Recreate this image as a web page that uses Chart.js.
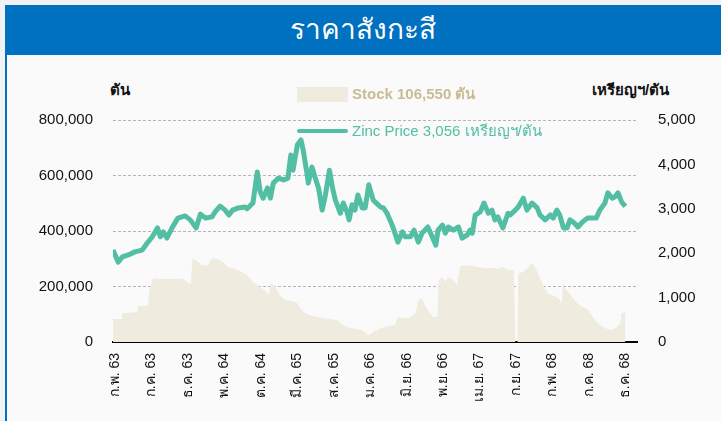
<!DOCTYPE html>
<html>
<head>
<meta charset="utf-8">
<script src="https://cdn.jsdelivr.net/npm/chart.js@4"></script>
<style>
  body { margin: 0; background: #f2f2f2; font-family: "Liberation Sans", Arial, "Noto Sans", sans-serif; }
  #wrap { position: relative; width: 721px; height: 421px; overflow: hidden; }
  #card { position: absolute; left: 5px; top: 5px; width: 716px; height: 416px; background: #fafafa; border-left: 2px solid #0070c0; box-sizing: border-box; }
  #head { position: absolute; left: 5px; top: 5px; width: 716px; height: 50px; background: #0070c0; color: #fff; font-size: 28px; text-align: center; line-height: 50px; }
  .lbl { position: absolute; font-size: 15px; white-space: nowrap; line-height: 18px; }
  canvas { position: absolute; left: 0; top: 0; }
</style>
</head>
<body>
<div id="wrap">
  <div id="card"></div>
  <div id="head">ราคาสังกะสี</div>
  <div class="lbl" style="left:110px;top:81px;color:#111;font-weight:bold;">ตัน</div>
  <div class="lbl" style="left:592px;top:81px;color:#111;font-weight:bold;">เหรียญฯ/ตัน</div>
  <canvas id="chartZinc" width="721" height="421"></canvas>
  <div style="position:absolute;left:297px;top:87px;width:51px;height:15px;background:#efebdf;"></div>
  <div class="lbl" style="left:352px;top:85px;color:#c9bc94;font-weight:bold;">Stock 106,550 ตัน</div>
  <div style="position:absolute;left:297px;top:129px;width:51px;height:4px;background:#52bea3;border-radius:2px;"></div>
  <div class="lbl" style="left:352px;top:122px;color:#52bea3;">Zinc Price 3,056 เหรียญฯ/ตัน</div>
</div>
<script>
// months counted from ก.พ. 63 (0) to ธ.ค. 68 (70)
const tickMonths = [0, 5, 10, 15, 20, 25, 30, 35, 40, 45, 50, 55, 60, 65, 70];
const tickLabels = ["ก.พ. 63", "ก.ค. 63", "ธ.ค. 63", "พ.ค. 64", "ต.ค. 64", "มี.ค. 65", "ส.ค. 65", "ม.ค. 66", "มิ.ย. 66", "พ.ย. 66", "เม.ย. 67", "ก.ย. 67", "ก.พ. 68", "ก.ค. 68", "ธ.ค. 68"];

// zinc price, USD/ton
const priceMonths = [-0.3, 0.4, 1.0, 1.8, 2.7, 3.7, 4.4, 5.1, 5.8, 6.2, 6.6, 7.1, 7.8, 8.6, 9.6, 10.3, 11.1, 11.7, 12.4, 13.3, 13.7, 14.4, 15.1, 15.6, 16.1, 16.9, 17.8, 18.1, 18.9, 19.5, 19.9, 20.3, 20.9, 21.3, 21.7, 22.4, 23.1, 23.7, 24.1, 24.4, 25.0, 25.5, 25.8, 26.3, 26.5, 27.0, 27.4, 27.9, 28.4, 28.8, 29.4, 29.8, 30.2, 30.9, 31.3, 31.8, 32.1, 32.5, 32.9, 33.3, 33.9, 34.3, 34.8, 35.4, 35.7, 36.4, 36.8, 37.3, 37.7, 38.1, 38.8, 39.4, 39.8, 40.5, 41.0, 41.6, 42.1, 42.5, 42.9, 43.5, 44.0, 44.3, 44.9, 45.3, 45.7, 46.4, 47.1, 47.6, 48.3, 48.7, 49.0, 49.4, 50.1, 50.6, 51.2, 51.7, 52.1, 52.5, 53.2, 53.9, 54.2, 54.9, 55.3, 56.0, 56.5, 57.2, 57.9, 58.3, 59.0, 59.7, 60.1, 60.6, 61.0, 61.5, 62.0, 62.4, 63.0, 63.5, 64.1, 64.8, 65.4, 66.0, 66.5, 67.2, 67.6, 68.2, 68.6, 69.0, 69.5, 70.0];
const priceValues = [2070, 1800, 1915, 1960, 2030, 2070, 2230, 2370, 2570, 2370, 2480, 2340, 2570, 2790, 2840, 2750, 2570, 2880, 2790, 2820, 2930, 3060, 2970, 2860, 2970, 3020, 3040, 3000, 3130, 3830, 3380, 3240, 3470, 3240, 3580, 3690, 3650, 3690, 4210, 3870, 4440, 4550, 4320, 3810, 3580, 3940, 3720, 3470, 2970, 3270, 3870, 3490, 3200, 2900, 3130, 2930, 2750, 3090, 2970, 3310, 3020, 3020, 3540, 3200, 3150, 3040, 3020, 2900, 2750, 2590, 2250, 2480, 2370, 2370, 2520, 2250, 2450, 2520, 2590, 2370, 2180, 2520, 2630, 2450, 2590, 2520, 2590, 2340, 2410, 2520, 2450, 2860, 2930, 3130, 2900, 2970, 2750, 2820, 2570, 2900, 2860, 2970, 3040, 3240, 2970, 3130, 3020, 2860, 2750, 2860, 2790, 2970, 2860, 2570, 2570, 2750, 2680, 2590, 2700, 2790, 2790, 2790, 2970, 3130, 3360, 3240, 3270, 3360, 3150, 3056];

// LME stock, tons
const stockMonths = [-0.3, 0.9, 1.0, 3.0, 3.2, 4.5, 4.7, 5.2, 6.9, 7.8, 9.2, 9.9, 10.4, 10.6, 11.2, 11.9, 12.8, 13.2, 14.1, 14.8, 15.5, 16.5, 17.4, 18.1, 18.9, 19.9, 20.9, 21.1, 21.3, 21.9, 22.6, 23.3, 24.3, 25.0, 25.4, 26.1, 26.7, 27.7, 28.5, 29.5, 30.5, 30.9, 31.8, 32.6, 33.9, 34.8, 35.4, 36.4, 37.4, 38.4, 38.8, 40.2, 41.2, 41.6, 42.1, 42.5, 42.9, 43.6, 44.2, 44.4, 44.9, 45.3, 45.7, 46.4, 46.9, 47.3, 47.7, 49.0, 49.8, 50.8, 51.7, 52.5, 53.2, 53.9, 54.7, 54.9, 55.2, 55.3, 56.0, 56.7, 57.2, 57.6, 58.0, 58.6, 59.3, 59.9, 60.6, 61.0, 61.3, 61.4, 62.0, 62.7, 63.4, 64.1, 64.7, 65.2, 65.8, 66.5, 67.5, 68.2, 68.9, 69.3, 69.5, 70.0];
const stockValues = [83000, 83000, 104000, 108000, 130000, 130000, 187000, 230000, 227000, 227000, 228000, 216000, 209000, 302000, 292000, 277000, 277000, 302000, 299000, 288000, 270000, 263000, 252000, 241000, 216000, 198000, 177000, 170000, 212000, 202000, 169000, 151000, 148000, 140000, 122000, 104000, 97000, 90000, 86000, 83000, 79000, 68000, 54000, 50000, 43000, 25000, 36000, 50000, 58000, 61000, 90000, 86000, 104000, 151000, 158000, 133000, 115000, 90000, 90000, 223000, 234000, 216000, 234000, 223000, 205000, 270000, 277000, 274000, 270000, 267000, 267000, 263000, 270000, 259000, 259000, 0, 0, 248000, 252000, 270000, 284000, 270000, 248000, 212000, 177000, 169000, 162000, 151000, 140000, 202000, 187000, 162000, 140000, 126000, 122000, 104000, 79000, 61000, 47000, 43000, 54000, 68000, 104000, 106550];

Chart.defaults.font.family = "'Liberation Sans', Arial, 'Noto Sans', sans-serif";
Chart.defaults.color = "#111";

new Chart(document.querySelector("#chartZinc"), {
  type: "line",
  data: {
    datasets: [
      {
        label: "Zinc Price",
        data: priceMonths.map((m, i) => ({ x: m, y: priceValues[i] })),
        yAxisID: "yPrice",
        borderColor: "#52bea3",
        borderWidth: 5,
        borderJoinStyle: "round",
        pointRadius: 0,
        tension: 0,
        fill: false,
      },
      {
        label: "Stock",
        data: stockMonths.map((m, i) => ({ x: m, y: stockValues[i] })),
        yAxisID: "yStock",
        borderWidth: 0,
        borderColor: "#efebdf",
        backgroundColor: "#efebdf",
        pointRadius: 0,
        tension: 0,
        fill: "origin",
      },
    ],
  },
  options: {
    responsive: false,
    animation: false,
    locale: "en-US",
    layout: { padding: { top: 120, bottom: 0, left: 0, right: 0 } },
    scales: {
      x: {
        type: "linear",
        min: -0.3,
        max: 71.6,
        afterBuildTicks: (scale) => {
          scale.ticks = tickMonths.map((v) => ({ value: v }));
        },
        afterFit: (scale) => { scale.height = 79; },
        grid: { display: false, drawTicks: false },
        border: { display: true, color: "#000", width: 2 },
        ticks: {
          autoSkip: false,
          maxRotation: 90,
          minRotation: 90,
          padding: 11,
          font: { size: 14 },
          color: "#111",
          callback: (value) => tickLabels[tickMonths.indexOf(value)],
        },
      },
      yStock: {
        position: "left",
        min: 0,
        max: 800000,
        afterFit: (scale) => { scale.width = 113; },
        grid: { color: "#b5b5b5", drawTicks: false },
        border: { display: false, dash: [3, 2] },
        ticks: { stepSize: 200000, padding: 20, font: { size: 15 }, color: "#111" },
      },
      yPrice: {
        position: "right",
        min: 0,
        max: 5000,
        afterFit: (scale) => { scale.width = 84; },
        grid: { display: false, drawTicks: false },
        border: { display: false },
        ticks: { stepSize: 1000, padding: 21, font: { size: 15 }, color: "#111" },
      },
    },
    plugins: {
      legend: { display: false },
      tooltip: { enabled: false },
    },
  },
});
</script>
</body>
</html>
